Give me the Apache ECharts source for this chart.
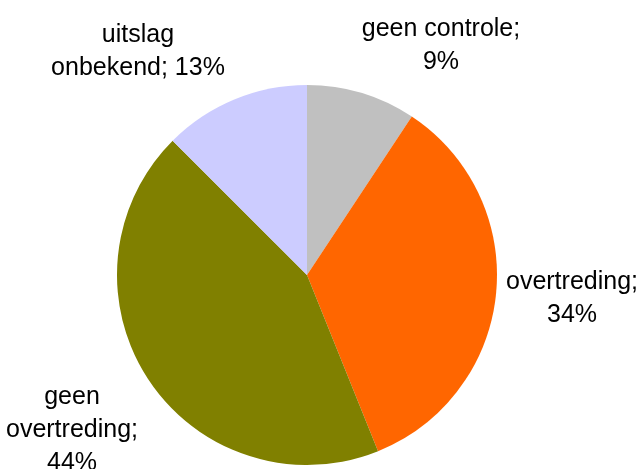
<!DOCTYPE html>
<html>
<head>
<meta charset="utf-8">
<script src="https://cdn.jsdelivr.net/npm/echarts@6/dist/echarts.min.js"></script>
<style>
html,body{margin:0;padding:0;background:#fff;}
#chart{width:642px;height:469px;}
</style>
</head>
<body>
<div id="chart"></div>
<script>
// Data
var categories = ['geen controle', 'overtreding', 'geen overtreding', 'uitslag onbekend'];
var values = [9.3, 34.6, 43.6, 12.5];          // slice sizes (measured from angles)
var percentLabels = ['9%', '34%', '44%', '13%']; // percentages as printed on the chart
var colors = ['#C0C0C0', '#FF6600', '#808000', '#CCCCFF'];

// label texts (line breaks as in the reference)
var labelTexts = [
  'geen controle;\n' + percentLabels[0],
  'overtreding;\n' + percentLabels[1],
  'geen\novertreding;\n' + percentLabels[2],
  'uitslag\nonbekend; ' + percentLabels[3]
];
// label centres in pixels
var labelPos = [[441, 46], [572, 299], [72, 430], [138, 52]];

var chart = echarts.init(document.getElementById('chart'), null, {renderer: 'canvas'});
chart.setOption({
  backgroundColor: '#ffffff',
  animation: false,
  series: [{
    type: 'pie',
    center: [307, 275],
    radius: 190,
    startAngle: 90,
    clockwise: true,
    avoidLabelOverlap: false,
    data: categories.map(function (c, i) {
      return {name: c, value: values[i], itemStyle: {color: colors[i]}};
    }),
    itemStyle: {borderWidth: 0},
    emphasis: {disabled: true},
    label: {
      show: true,
      position: 'outside',
      formatter: function (p) { return labelTexts[p.dataIndex]; },
      fontFamily: 'Liberation Sans, Arial, sans-serif',
      fontSize: 25,
      lineHeight: 33,
      color: '#000000',
      align: 'center'
    },
    labelLine: {show: false},
    labelLayout: function (p) {
      var pos = labelPos[p.dataIndex];
      return {x: pos[0], y: pos[1], align: 'center', verticalAlign: 'middle'};
    }
  }]
});
</script>
</body>
</html>
